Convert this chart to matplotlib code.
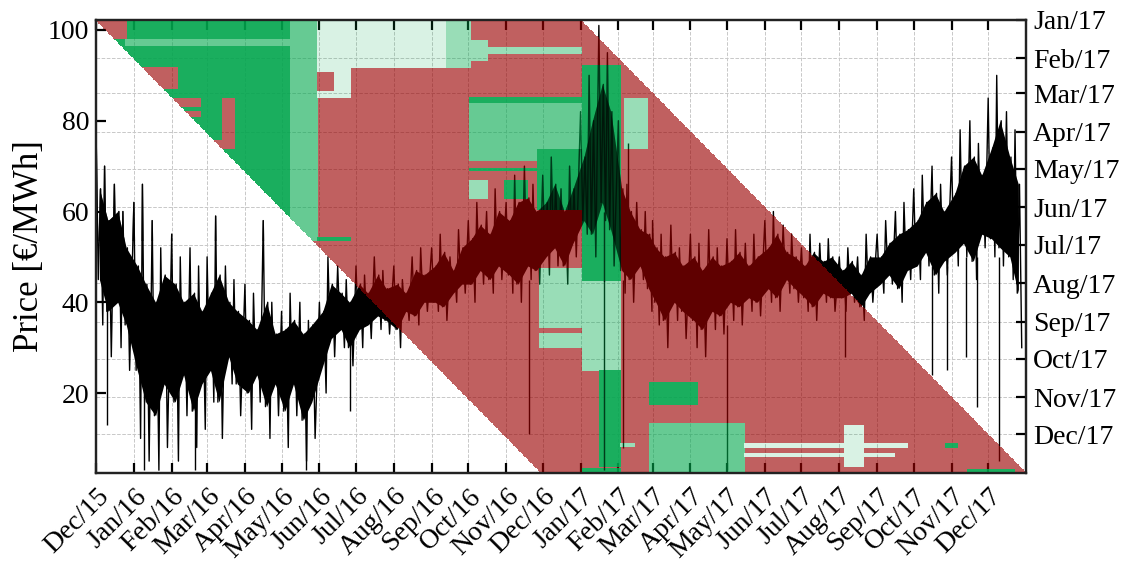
import numpy as np
import pandas as pd
import matplotlib
matplotlib.use("Agg")
import matplotlib.pyplot as plt
import matplotlib.dates as mdates
from matplotlib.path import Path
from matplotlib.transforms import ScaledTranslation, blended_transform_factory

plt.rcParams['font.family'] = ['Liberation Serif', 'DejaVu Serif']
plt.rcParams['font.size'] = 20

# ---- price series read at 4 points per month (days 1, 8, 16, 23) ----
months = pd.date_range("2015-12-01", "2017-12-01", freq="MS")
reading_days = [0, 7, 15, 22]
# extreme hours of each week
price_hi = [78, 70, 66, 60,   62, 66, 58, 52,   55, 50, 52, 48,   50, 59, 48, 45,
            44, 42, 58, 40,   38, 42, 40, 36,   40, 50, 48, 45,   48, 46, 50, 47,
            48, 45, 50, 52,   52, 55, 50, 56,   58, 62, 60, 65,   62, 68, 70, 66,
            68, 72, 65, 70,   82, 90, 101, 95,  80, 66, 62, 60,   58, 55, 57, 52,
            55, 53, 56, 52,   54, 56, 53, 55,   58, 60, 57, 55,   52, 55, 53, 54,
            50, 52, 50, 55,   55, 58, 60, 62,   65, 68, 70, 66,   72, 78, 80, 75,
            85, 90, 82, 78]
price_lo = [35, 28, 30, 25,   10, 5, 3, 8,      5, 15, 8, 12,     18, 10, 22, 15,
            12, 18, 10, 15,   8, 15, 5, 10,     20, 28, 30, 26,   30, 32, 34, 33,
            30, 36, 35, 38,   38, 36, 40, 42,   40, 44, 42, 45,   42, 40, 45, 44,
            46, 48, 44, 50,   55, 50, 58, 48,   42, 40, 45, 38,   35, 30, 36, 32,
            30, 28, 34, 33,   36, 35, 38, 37,   40, 38, 42, 40,   38, 36, 40, 38,
            38, 40, 36, 40,   42, 44, 40, 45,   45, 48, 42, 46,   48, 50, 45, 52,
            50, 48, 45, 30]
# typical daily peak / trough of each week (the dense black core)
core_hi = [65, 58, 60, 52,   48, 44, 40, 46,   44, 40, 42, 38,   42, 46, 40, 38,
           36, 34, 40, 33,   34, 36, 33, 35,   38, 44, 42, 40,   44, 42, 46, 43,
           44, 42, 47, 46,   48, 51, 47, 52,   54, 57, 55, 60,   58, 62, 63, 60,
           62, 66, 60, 65,   72, 80, 88, 82,   65, 60, 56, 55,   52, 50, 51, 48,
           50, 47, 50, 48,   49, 51, 48, 50,   52, 55, 51, 50,   48, 51, 49, 50,
           47, 49, 46, 50,   50, 53, 55, 56,   58, 62, 64, 60,   64, 70, 72, 68,
           74, 80, 72, 66]
core_lo = [45, 38, 40, 35,   25, 18, 15, 22,   18, 24, 16, 22,   25, 18, 28, 22,
           20, 24, 17, 22,   16, 22, 14, 18,   26, 32, 34, 30,   34, 35, 37, 36,
           34, 38, 37, 40,   40, 39, 42, 44,   44, 47, 45, 48,   46, 44, 48, 47,
           50, 52, 48, 53,   58, 55, 62, 56,   47, 45, 48, 43,   40, 36, 40, 38,
           36, 34, 38, 37,   40, 39, 41, 40,   43, 41, 45, 43,   41, 39, 42, 41,
           41, 42, 39, 42,   44, 46, 43, 47,   48, 51, 46, 49,   51, 53, 49, 55,
           54, 52, 50, 42]

# single hours far outside the envelope
spike_dates = ["2015-12-10", "2016-01-09", "2016-02-20", "2016-05-21", "2016-06-26",
               "2016-11-20", "2017-01-20", "2017-02-05", "2017-02-09", "2017-05-01",
               "2017-08-06", "2017-10-16", "2017-10-28", "2017-11-13", "2017-11-22",
               "2017-12-10"]
spike_from = [40, 30, 30, 25, 35, 45, 60, 45, 50, 35, 42, 48, 48, 50, 50, 50]
spike_to = [13, 3, 3, 3, 16, 11, 3, 8, 75, 3, 28, 24, 25, 28, 17, 5]

# ---- 2017 rows x daily columns: each row covers a 397-day window ----
window_days = 397
col_start = pd.Timestamp("2015-12-01")
row_start = pd.Timestamp("2017-01-01")
n_cols, n_rows = 762, 365

# (first column, last column, first row, last row, kind)
cell_blocks = [
    ("2015-12-01", "2016-05-30", "2017-01-01", "2017-06-27", "g"),
    ("2016-05-08", "2016-05-30", "2017-01-01", "2017-06-27", "m"),
    ("2015-12-25", "2016-05-30", "2017-01-16", "2017-01-21", "m"),
    ("2015-12-01", "2015-12-25", "2017-01-01", "2017-01-15", "r"),
    ("2015-12-01", "2016-02-05", "2017-02-08", "2017-02-25", "r"),
    ("2015-12-01", "2016-02-24", "2017-03-05", "2017-03-11", "r"),
    ("2015-12-01", "2016-02-24", "2017-03-15", "2017-03-19", "r"),
    ("2016-03-13", "2016-03-23", "2017-03-05", "2017-04-14", "r"),
    ("2015-12-01", "2016-03-23", "2017-04-08", "2017-04-14", "r"),
    ("2016-05-30", "2016-10-02", "2017-01-01", "2017-02-08", "p"),
    ("2016-09-13", "2016-10-02", "2017-01-01", "2017-02-08", "l"),
    ("2016-10-02", "2016-10-16", "2017-01-17", "2017-02-02", "l"),
    ("2016-10-16", "2017-01-01", "2017-01-23", "2017-01-27", "l"),
    ("2016-05-30", "2016-06-26", "2017-02-08", "2017-03-04", "p"),
    ("2016-05-30", "2016-06-12", "2017-02-12", "2017-02-26", "r"),
    ("2016-05-30", "2016-06-26", "2017-06-25", "2017-06-27", "g"),
    ("2016-10-02", "2017-01-01", "2017-03-04", "2017-04-24", "m"),
    ("2016-10-02", "2017-01-01", "2017-03-04", "2017-03-08", "g"),
    ("2016-10-02", "2017-01-01", "2017-04-30", "2017-05-02", "g"),
    ("2016-10-02", "2016-10-16", "2017-05-10", "2017-05-24", "l"),
    ("2016-10-30", "2016-11-18", "2017-05-10", "2017-05-24", "g"),
    ("2016-11-26", "2017-01-01", "2017-04-15", "2017-06-02", "g"),
    ("2016-11-28", "2017-01-01", "2017-07-20", "2017-09-21", "l"),
    ("2016-11-28", "2017-01-01", "2017-09-06", "2017-09-09", "r"),
    ("2017-01-02", "2017-02-02", "2017-02-06", "2017-07-30", "g"),
    ("2017-01-02", "2017-02-02", "2017-07-30", "2017-10-10", "l"),
    ("2017-01-16", "2017-02-02", "2017-10-10", "2017-12-26", "g"),
    ("2017-01-02", "2017-02-02", "2017-12-28", "2017-12-31", "g"),
    ("2017-02-06", "2017-02-24", "2017-03-05", "2017-04-14", "l"),
    ("2017-02-02", "2017-02-14", "2017-12-08", "2017-12-10", "l"),
    ("2017-02-26", "2017-04-06", "2017-10-20", "2017-11-06", "g"),
    ("2017-02-26", "2017-05-15", "2017-11-22", "2017-12-30", "m"),
    ("2017-05-15", "2017-09-25", "2017-12-08", "2017-12-11", "p"),
    ("2017-05-15", "2017-09-15", "2017-12-16", "2017-12-18", "p"),
    ("2017-08-05", "2017-08-20", "2017-11-23", "2017-12-26", "p"),
    ("2017-10-27", "2017-11-05", "2017-12-08", "2017-12-11", "g"),
    ("2017-11-14", "2017-12-22", "2017-12-29", "2017-12-31", "g"),
]

kind_rgba = {
    "r": (0.604, 0.0, 0.0, 0.624),
    "g": (0.0, 0.65, 0.30, 0.90),
    "m": (0.0, 0.66, 0.30, 0.6),
    "l": (0.0, 0.67, 0.30, 0.40),
    "p": (0.0, 0.67, 0.30, 0.15),
}

cols = np.arange(n_cols)[None, :]
rows = np.arange(n_rows)[:, None]
in_window = (cols - rows >= 0) & (cols - rows <= window_days)
cells = np.zeros((n_rows, n_cols, 4))
cells[in_window] = kind_rgba["r"]
for c0, c1, r0, r1, kind in cell_blocks:
    j0 = (pd.Timestamp(c0) - col_start).days
    j1 = (pd.Timestamp(c1) - col_start).days
    i0 = (pd.Timestamp(r0) - row_start).days
    i1 = (pd.Timestamp(r1) - row_start).days
    sel = np.zeros_like(in_window)
    sel[i0:i1 + 1, j0:j1 + 1] = True
    cells[sel & in_window] = kind_rgba[kind]

# ---- line through the readings: high, core low, core high, low ----
line_x, line_y, mid_x = [], [], []
k = 0
for m in months:
    for d in reading_days:
        t = m + pd.Timedelta(days=d)
        for step, val in enumerate([price_hi[k], core_lo[k], core_hi[k], price_lo[k]]):
            line_x.append(t + pd.Timedelta(hours=44 * step))
            line_y.append(val)
        mid_x.append(t + pd.Timedelta(hours=66))
        k += 1
line_x = mdates.date2num(pd.DatetimeIndex(line_x).to_pydatetime())
mid_x = mdates.date2num(pd.DatetimeIndex(mid_x).to_pydatetime())
spike_x = mdates.date2num(pd.to_datetime(spike_dates).to_pydatetime())


def draw_price(target, **kw):
    arts = []
    arts.append(target.fill_between(mid_x, core_lo, core_hi, color="black", lw=0, **kw))
    arts += target.plot(line_x, line_y, color="black", lw=1.0, **kw)
    arts.append(target.vlines(spike_x, spike_from, spike_to, color="black", lw=1.0, **kw))
    return arts


fig = plt.figure(figsize=(11.26, 5.63), dpi=100)
ax = fig.add_axes([0.0853, 0.16, 0.8259, 0.8045])
ax2 = ax.twinx()

x0 = mdates.date2num(col_start)
x1 = x0 + n_cols
y_top = mdates.date2num(row_start)
y_bot = y_top + n_rows
right_ticks = mdates.date2num(pd.date_range("2017-01-01", "2017-12-01", freq="MS").to_pydatetime())

# horizontal grid of the right axis, kept underneath the price line
grid_tr = blended_transform_factory(ax.transAxes, ax2.transData)
for t in right_ticks:
    ax.plot([0, 1], [t, t], transform=grid_tr, color="#c8c8c8", ls="--", lw=0.7, zorder=0.5)

draw_price(ax, zorder=2)

ax.set_xlim(x0, mdates.date2num(pd.Timestamp("2018-01-01")))
ax.set_ylim(2.4, 102.2)
ax.set_yticks([20, 40, 60, 80, 100])
ax.set_ylabel("Price [€/MWh]", fontsize=25, labelpad=1)
ax.set_xticks(mdates.date2num(months.to_pydatetime()))
ax.xaxis.set_major_formatter(mdates.DateFormatter("%b/%y"))
ax.grid(True, axis="x", color="#c8c8c8", ls="--", lw=0.7)
ax.set_axisbelow(True)
ax.tick_params(axis="both", direction="in", length=7, width=1.6, pad=5,
               top=True, right=False, labelsize=20)
shift = ScaledTranslation(0, -4 / 100, fig.dpi_scale_trans)
for lab in ax.get_xticklabels():
    lab.set_rotation(45)
    lab.set_ha("right")
    lab.set_va("top")
    lab.set_rotation_mode("anchor")
    lab.set_transform(lab.get_transform() + shift)

ax2.imshow(cells, extent=(x0, x1, y_bot, y_top), origin="upper", aspect="auto",
           interpolation="nearest", zorder=1)

# darken the price line where it lies under dense green cells
verts, codes = [], []
for c0, c1, r0, r1, kind in cell_blocks:
    if kind != "g":
        continue
    a = mdates.date2num(pd.Timestamp(c0)); b = mdates.date2num(pd.Timestamp(c1)) + 1
    c = mdates.date2num(pd.Timestamp(r0)); d = mdates.date2num(pd.Timestamp(r1)) + 1
    verts += [(a, c), (b, c), (b, d), (a, d), (a, c)]
    codes += [Path.MOVETO, Path.LINETO, Path.LINETO, Path.LINETO, Path.CLOSEPOLY]
green_path = Path(verts, codes)
for art in draw_price(ax2, alpha=0.6, zorder=2, transform=ax.transData):
    art.set_clip_path(green_path, ax2.transData)

ax2.set_ylim(y_bot, y_top)
ax2.set_xlim(ax.get_xlim())
ax2.set_yticks(right_ticks)
ax2.yaxis.set_major_formatter(mdates.DateFormatter("%b/%y"))
ax2.tick_params(axis="y", direction="in", length=7, width=1.6, pad=5, labelsize=20)

for a in (ax, ax2):
    for s in a.spines.values():
        s.set_linewidth(1.6)
        s.set_color("#222222")

fig.savefig("out.png", dpi=100)
